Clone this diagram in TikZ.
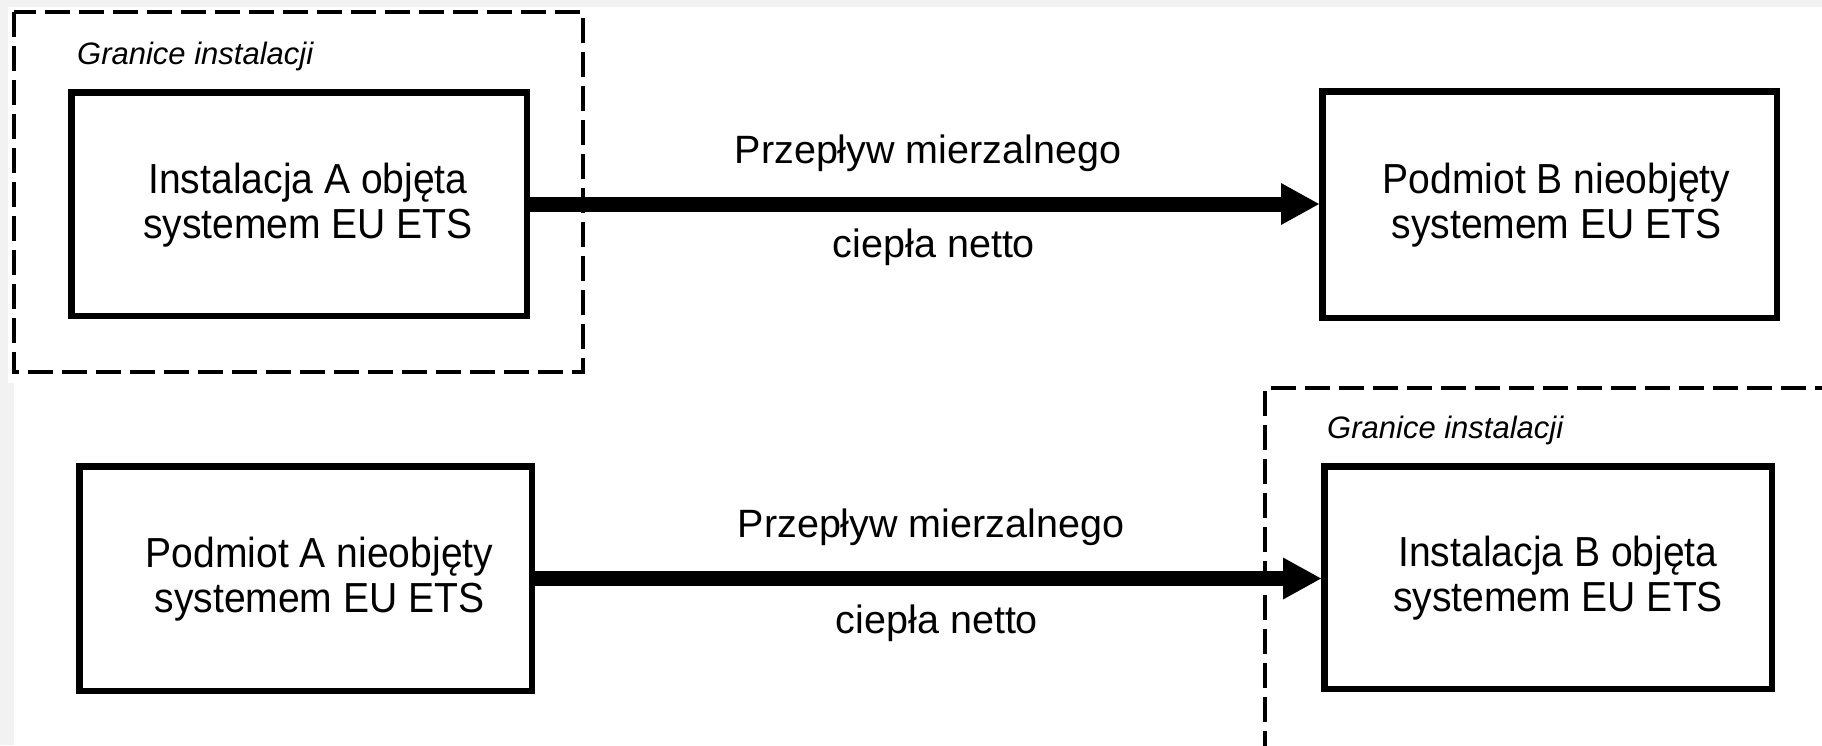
\documentclass[tikz,border=0pt]{standalone}
\usepackage{fontspec}
\setmainfont{Liberation Sans}
\newfontfamily\narrowsans{Liberation Sans}[FakeStretch=0.93]
\usetikzlibrary{arrows.meta}
\definecolor{bggray}{RGB}{242,242,242}
\tikzset{
  solidbox/.style={draw=black, line width=6.5pt, fill=white, inner sep=0pt},
  boxtext/.style={align=center, font=\narrowsans\fontsize{42}{45}\selectfont, inner sep=0pt},
  flowlabel/.style={anchor=base, font=\fontsize{39.5}{46}\selectfont, inner sep=0pt},
  boundlabel/.style={anchor=base west, font=\fontsize{31}{34}\selectfont\itshape, inner sep=0pt},
  boundary/.style={draw=black, line width=4pt, dash pattern=on 25pt off 9pt},
  flow/.style={line width=15pt, -{Triangle[length=38pt,width=42pt,line width=0pt]}}
}
\begin{document}
\begin{tikzpicture}[x=1pt,y=-1pt]
\useasboundingbox (0,0) rectangle (1822,745);
% background
\fill[bggray] (0,0) rectangle (1822,745);
\fill[white] (8,7) rectangle (1822,383);
\fill[white] (14,383) rectangle (1822,745);
\begin{scope}
\clip (0,0) rectangle (1822,745);
% installation boundaries
\draw[boundary] (14,12) rectangle (583,372);
\draw[boundary] (1840,388) -- (1265,388) -- (1265,760);
\end{scope}
\node[boundlabel] (g1) at (77,64) {Granice instalacji};
\node[boundlabel] (g2) at (1327,438) {Granice instalacji};
% boxes
\node[solidbox, minimum width=455.5pt, minimum height=223.5pt] (a1) at (299,204) {};
\node[solidbox, minimum width=454.5pt, minimum height=226.5pt] (b1) at (1549.5,204.5) {};
\node[solidbox, minimum width=452.5pt, minimum height=224.5pt] (a2) at (305.5,578.5) {};
\node[solidbox, minimum width=447.5pt, minimum height=222.5pt] (b2) at (1548,577.5) {};
\node[boxtext] (ta1) at ([xshift=9pt,yshift=-1pt]a1.center) {Instalacja A objęta\\systemem EU ETS};
\node[boxtext] (tb1) at ([xshift=7pt,yshift=-1pt]b1.center) {Podmiot B nieobjęty\\systemem EU ETS};
\node[boxtext] (ta2) at ([xshift=14pt,yshift=-1pt]a2.center) {Podmiot A nieobjęty\\systemem EU ETS};
\node[boxtext] (tb2) at ([xshift=10pt,yshift=-1pt]b2.center) {Instalacja B objęta\\systemem EU ETS};
% flows
\draw[flow] (a1.east) -- (a1.east -| b1.west);
\draw[flow] (a2.east) -- (a2.east -| b2.west);
\node[flowlabel] (l1a) at (928,163) {Przepływ mierzalnego};
\node[flowlabel] (l1b) at (934,257) {ciepła netto};
\node[flowlabel] (l2a) at (931,537) {Przepływ mierzalnego};
\node[flowlabel] (l2b) at (937,633) {ciepła netto};
\end{tikzpicture}
\end{document}
